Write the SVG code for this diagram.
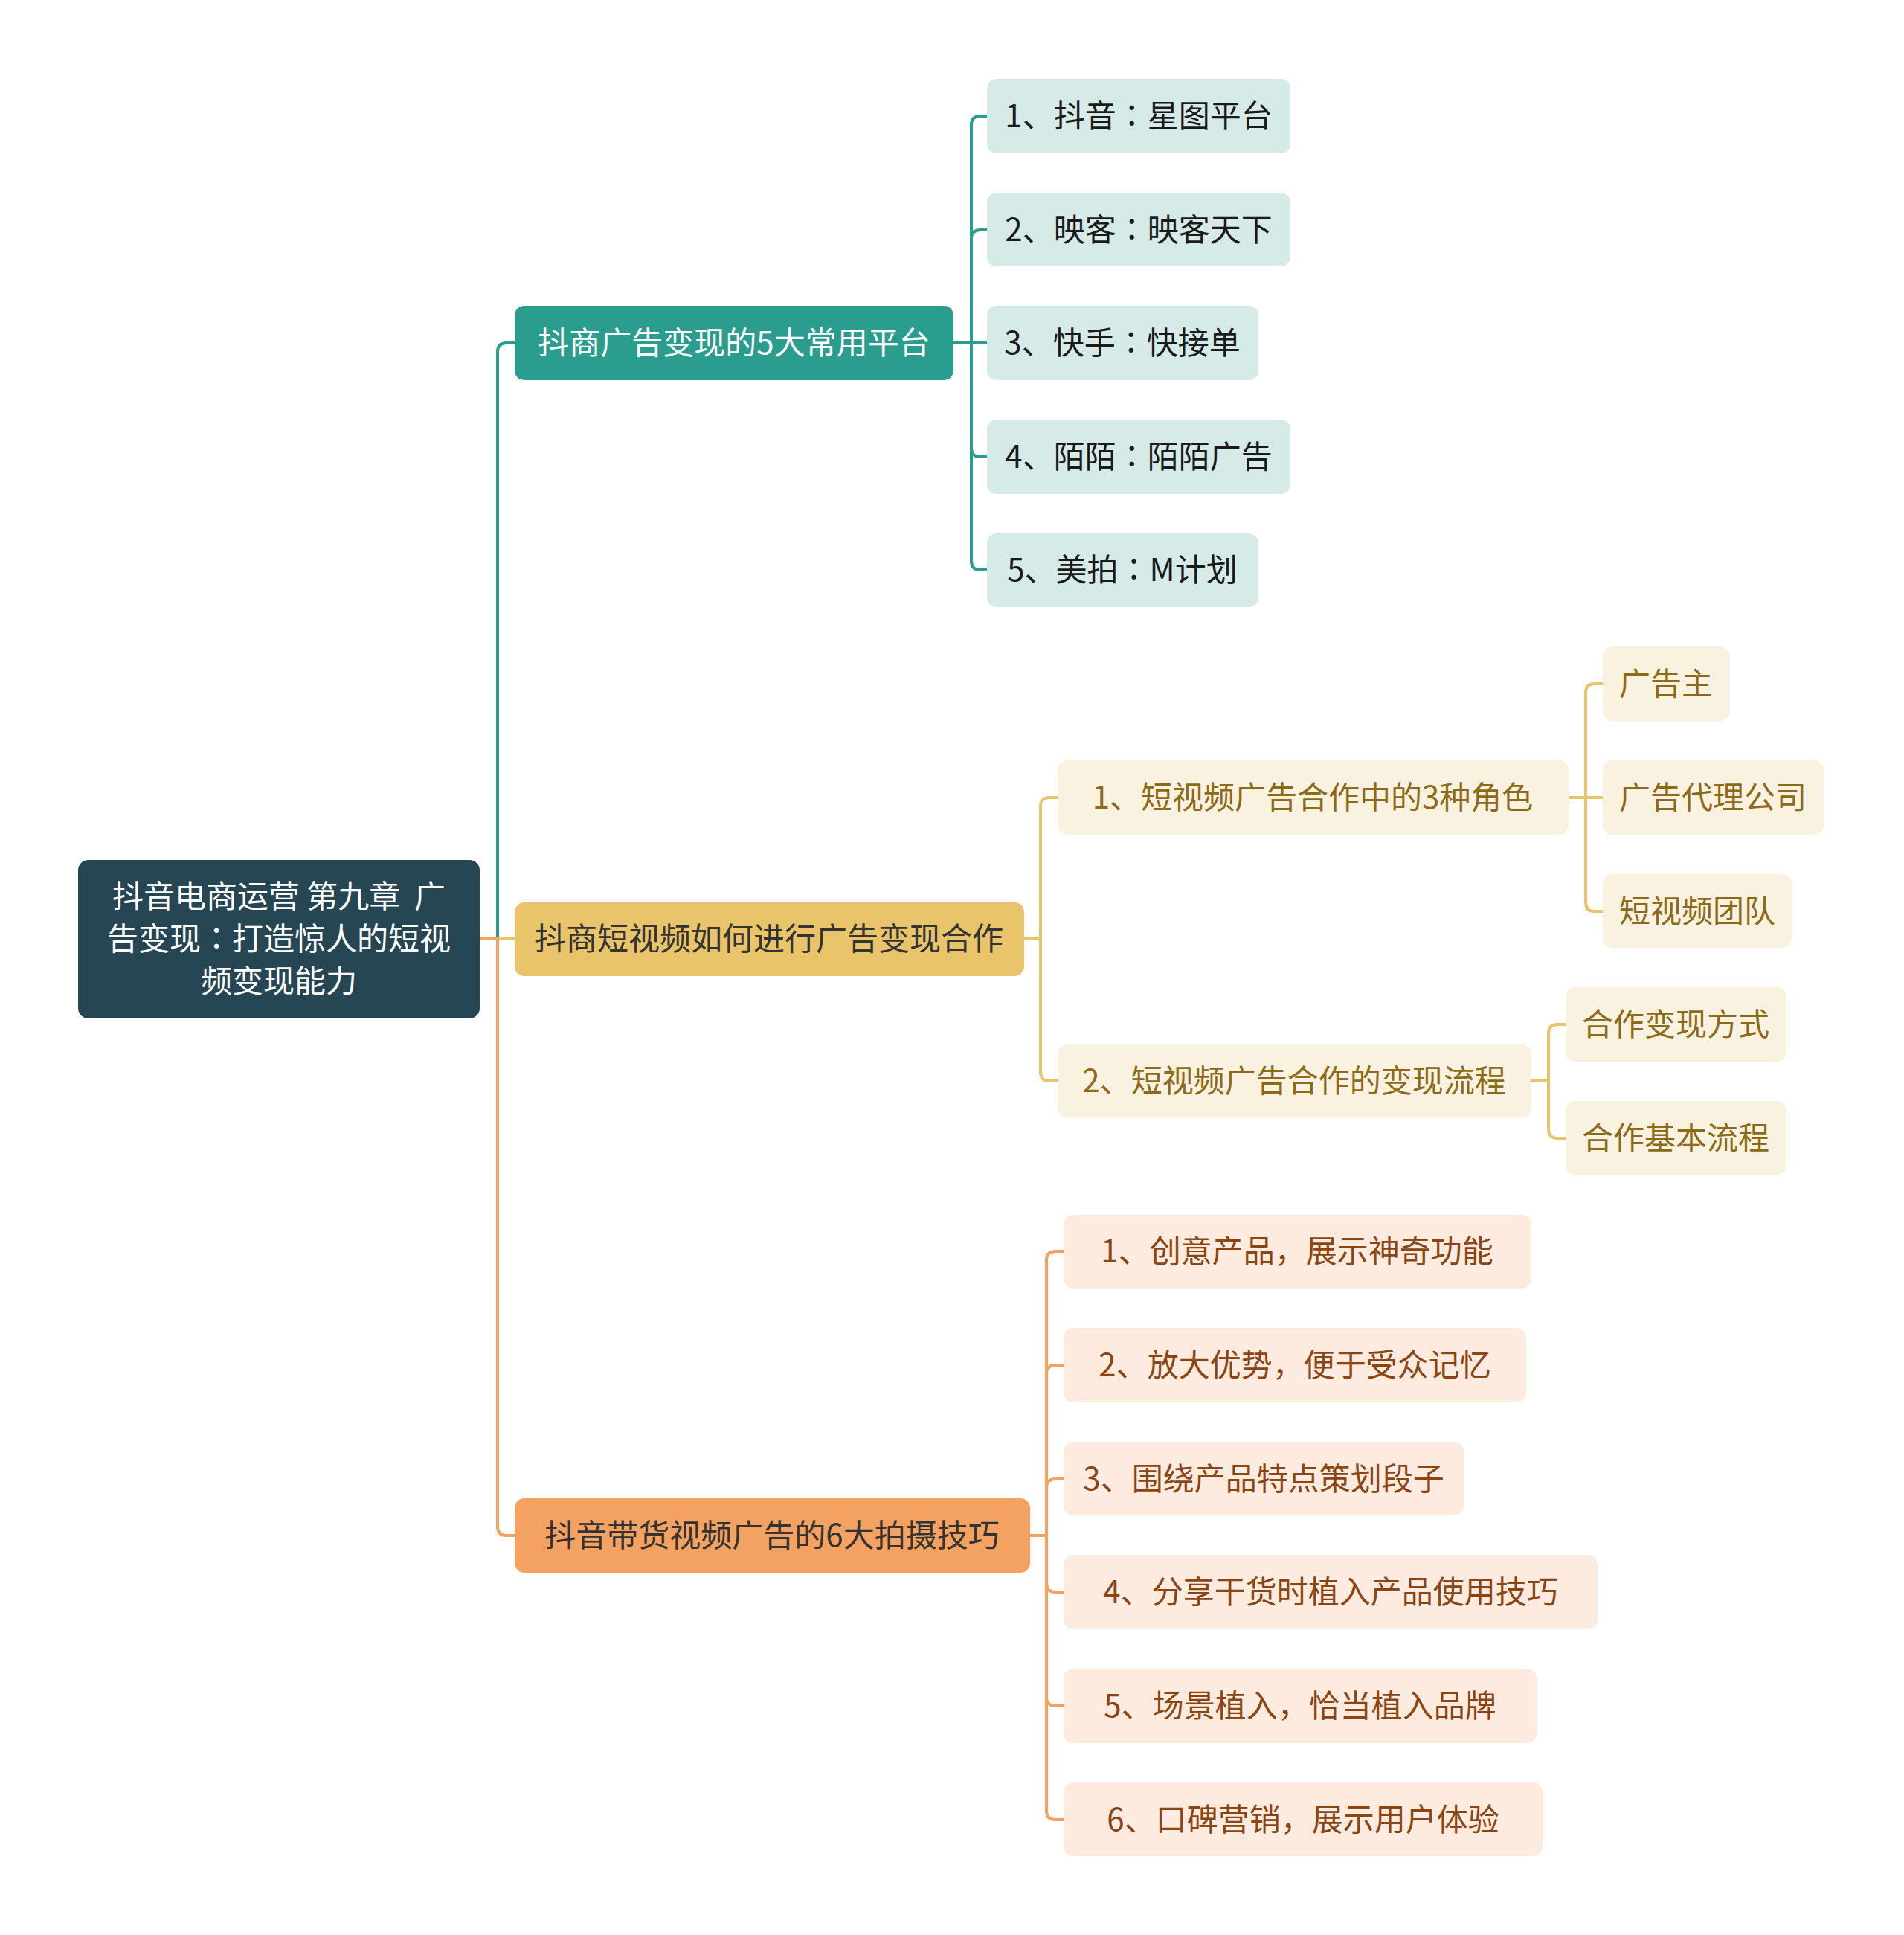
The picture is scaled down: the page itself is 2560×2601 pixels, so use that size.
<svg xmlns="http://www.w3.org/2000/svg" width="2560" height="2601" viewBox="0 0 2560 2601">
<style>
text{font-family:"Noto Sans CJK SC","Microsoft YaHei",sans-serif;font-size:42px;text-anchor:middle}
.p{font-family:"Noto Sans CJK TC","Noto Sans CJK SC",sans-serif}
.c{fill:none;stroke-width:4;stroke-linecap:round;stroke-linejoin:round}
.ct{stroke:#2a9d8f}.cy{stroke:#e9c46a}.co{stroke:#f4a261}
.root rect{fill:#264653}.root text{fill:#ffffff}
.l1t rect{fill:#2a9d8f}.l1t text{fill:#ffffff}
.l1y rect{fill:#e9c46a}.l1y text{fill:#333333}
.l1o rect{fill:#f4a261}.l1o text{fill:#333333}
.t rect{fill:#d6ebe8}.t text{fill:#1a1a1a}
.y rect{fill:#faf2e0}.y text{fill:#8c6a18}
.o rect{fill:#fdebe0}.o text{fill:#8b4513}
</style>
<rect width="2560" height="2601" fill="#ffffff"/>
<g id="connectors">
<path class="c ct" d="M645,1262 H669 V473 Q669,461 681,461 H692"/>
<path class="c cy" d="M645,1262 H692"/>
<path class="c co" d="M645,1262 H669 V2052 Q669,2064 681,2064 H692"/>
<path class="c ct" d="M1282,461 H1306 V168 Q1306,156 1318,156 H1327"/>
<path class="c ct" d="M1282,461 H1306 V321 Q1306,309 1318,309 H1327"/>
<path class="c ct" d="M1282,461 H1327"/>
<path class="c ct" d="M1282,461 H1306 V602 Q1306,614 1318,614 H1327"/>
<path class="c ct" d="M1282,461 H1306 V754 Q1306,766 1318,766 H1327"/>
<path class="c cy" d="M1377,1262 H1399 V1084 Q1399,1072 1411,1072 H1422"/>
<path class="c cy" d="M1377,1262 H1399 V1441 Q1399,1453 1411,1453 H1422"/>
<path class="c cy" d="M2109,1072 H2132 V931 Q2132,919 2144,919 H2155"/>
<path class="c cy" d="M2109,1072 H2155"/>
<path class="c cy" d="M2109,1072 H2132 V1213 Q2132,1225 2144,1225 H2155"/>
<path class="c cy" d="M2059,1453 H2082 V1389 Q2082,1377 2094,1377 H2105"/>
<path class="c cy" d="M2059,1453 H2082 V1518 Q2082,1530 2094,1530 H2105"/>
<path class="c co" d="M1385,2064 H1407 V1694 Q1407,1682 1419,1682 H1430"/>
<path class="c co" d="M1385,2064 H1407 V1847 Q1407,1835 1419,1835 H1430"/>
<path class="c co" d="M1385,2064 H1407 V2000 Q1407,1988 1419,1988 H1430"/>
<path class="c co" d="M1385,2064 H1407 V2128 Q1407,2140 1419,2140 H1430"/>
<path class="c co" d="M1385,2064 H1407 V2281 Q1407,2293 1419,2293 H1430"/>
<path class="c co" d="M1385,2064 H1407 V2434 Q1407,2446 1419,2446 H1430"/>
</g>
<g id="root" class="root"><rect x="105" y="1156" width="540" height="213" rx="14"/>
<text x="375" y="1220" xml:space="preserve">抖音电商运营 第九章  广</text>
<text x="375" y="1277">告变现<tspan class="p">：</tspan>打造惊人的短视</text>
<text x="375" y="1334">频变现能力</text></g>
<g id="n1" class="l1t"><rect x="692" y="411" width="590" height="100" rx="13"/><text x="987" y="476">抖商广告变现的5大常用平台</text></g>
<g id="n2" class="l1y"><rect x="692" y="1213" width="685" height="99" rx="13"/><text x="1034" y="1277">抖商短视频如何进行广告变现合作</text></g>
<g id="n3" class="l1o"><rect x="692" y="2014" width="693" height="100" rx="13"/><text x="1038" y="2079">抖音带货视频广告的6大拍摄技巧</text></g>
<g id="n1_1" class="t"><rect x="1327" y="106" width="408" height="100" rx="13"/><text x="1531" y="171">1、抖音<tspan class="p">：</tspan>星图平台</text></g>
<g id="n1_2" class="t"><rect x="1327" y="259" width="408" height="99" rx="13"/><text x="1531" y="324">2、映客<tspan class="p">：</tspan>映客天下</text></g>
<g id="n1_3" class="t"><rect x="1327" y="411" width="365" height="100" rx="13"/><text x="1509" y="476">3、快手<tspan class="p">：</tspan>快接单</text></g>
<g id="n1_4" class="t"><rect x="1327" y="564" width="408" height="100" rx="13"/><text x="1531" y="629">4、陌陌<tspan class="p">：</tspan>陌陌广告</text></g>
<g id="n1_5" class="t"><rect x="1327" y="717" width="365" height="99" rx="13"/><text x="1509" y="781">5、美拍<tspan class="p">：</tspan>M计划</text></g>
<g id="n2_1" class="y"><rect x="1422" y="1022" width="687" height="100" rx="13"/><text x="1765" y="1087">1、短视频广告合作中的3种角色</text></g>
<g id="n2_2" class="y"><rect x="1422" y="1404" width="637" height="99" rx="13"/><text x="1740" y="1468">2、短视频广告合作的变现流程</text></g>
<g id="n2_1_1" class="y"><rect x="2155" y="869" width="171" height="100" rx="13"/><text x="2240" y="934">广告主</text></g>
<g id="n2_1_2" class="y"><rect x="2155" y="1022" width="297" height="100" rx="13"/><text x="2303" y="1087">广告代理公司</text></g>
<g id="n2_1_3" class="y"><rect x="2155" y="1175" width="254" height="99" rx="13"/><text x="2282" y="1240">短视频团队</text></g>
<g id="n2_2_1" class="y"><rect x="2105" y="1327" width="297" height="100" rx="13"/><text x="2253" y="1392">合作变现方式</text></g>
<g id="n2_2_2" class="y"><rect x="2105" y="1480" width="297" height="99" rx="13"/><text x="2253" y="1545">合作基本流程</text></g>
<g id="n3_1" class="o"><rect x="1430" y="1633" width="629" height="99" rx="13"/><text x="1744" y="1697">1、创意产品，展示神奇功能</text></g>
<g id="n3_2" class="o"><rect x="1430" y="1785" width="622" height="100" rx="13"/><text x="1741" y="1850">2、放大优势，便于受众记忆</text></g>
<g id="n3_3" class="o"><rect x="1430" y="1938" width="538" height="99" rx="13"/><text x="1699" y="2003">3、围绕产品特点策划段子</text></g>
<g id="n3_4" class="o"><rect x="1430" y="2090" width="718" height="100" rx="13"/><text x="1789" y="2155">4、分享干货时植入产品使用技巧</text></g>
<g id="n3_5" class="o"><rect x="1430" y="2243" width="636" height="100" rx="13"/><text x="1748" y="2308">5、场景植入，恰当植入品牌</text></g>
<g id="n3_6" class="o"><rect x="1430" y="2396" width="644" height="99" rx="13"/><text x="1752" y="2461">6、口碑营销，展示用户体验</text></g>
</svg>
